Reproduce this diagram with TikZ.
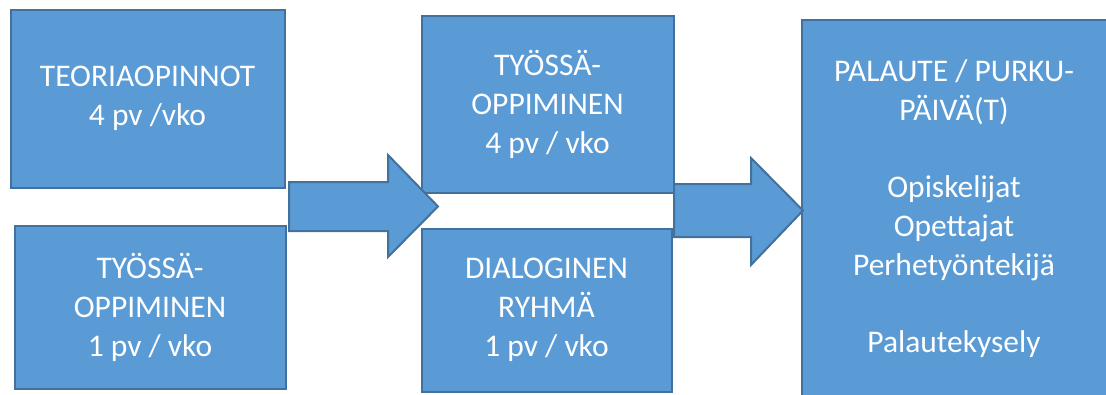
\documentclass[tikz,border=0pt]{standalone}
\usepackage{fontspec}
\setmainfont{Carlito}
\definecolor{boxfill}{HTML}{5B9BD5}
\definecolor{boxline}{HTML}{41719C}
\begin{document}
\begin{tikzpicture}[x=1pt,y=-1pt,
  blk/.style={draw=boxline, fill=boxfill, line width=2pt, text=white, align=center,
    font=\fontsize{31.5}{39}\selectfont, inner sep=0pt},
  blkarrow/.style={draw=boxline, fill=boxfill, line width=2pt, line join=miter}]
\useasboundingbox (0,0) rectangle (1106,394);
\clip (0,0) rectangle (1106,394);
\node[blk, minimum width=274pt, minimum height=178pt] (teoria) at (147.5,98.5)
  {TEORIAOPINNOT\\4 pv /vko};
\node[blk, minimum width=271pt, minimum height=163pt] (tyo1) at (150,307)
  {TYÖSSÄ-\\OPPIMINEN\\1 pv / vko};
\node[blk, minimum width=252pt, minimum height=177pt] (tyo4) at (547.5,104)
  {TYÖSSÄ-\\OPPIMINEN\\4 pv / vko};
\node[blk, minimum width=250pt, minimum height=163pt] (dialog) at (546.5,310)
  {DIALOGINEN\\RYHMÄ\\1 pv / vko};
\node[blk, minimum width=305pt, minimum height=378pt] (palaute) at (954,208.5)
  {PALAUTE / PURKU-\\PÄIVÄ(T)\\[38pt]Opiskelijat\\Opettajat\\Perhetyöntekijä\\[38pt]Palautekysely};
\coordinate (a1) at (289,206.5);
\coordinate (a2) at (674,210.5);
\draw[blkarrow] (a1) ++(0,-24.5) -- ++(99,0) -- ++(0,-27) -- (438,206.5) -- (388,257) -- ++(0,-26) -- ++(-99,0) -- cycle;
\draw[blkarrow] (a2) ++(0,-26.5) -- ++(77,0) -- ++(0,-26) -- (803,210.5) -- (751,265) -- ++(0,-28) -- ++(-77,0) -- cycle;
\end{tikzpicture}
\end{document}
